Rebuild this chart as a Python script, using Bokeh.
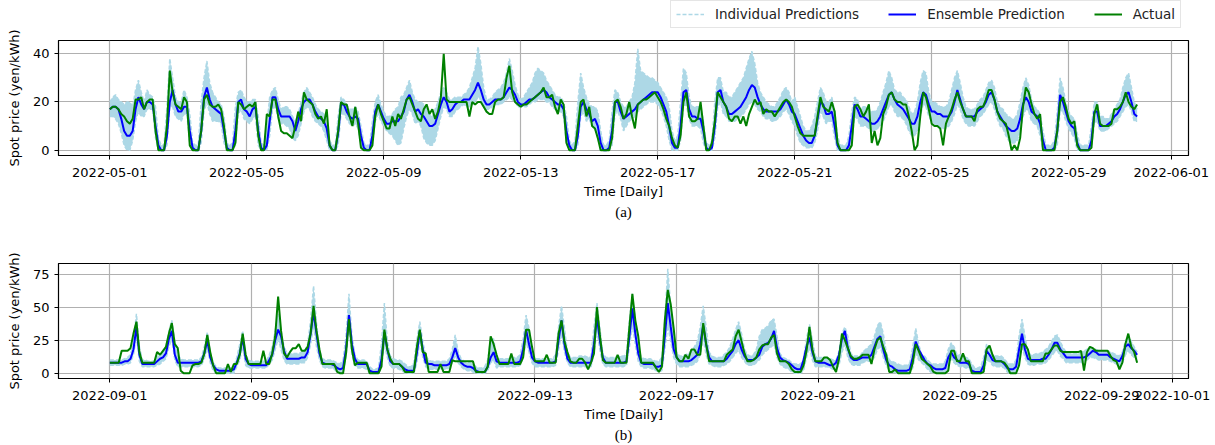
import pandas as pd
from bokeh.plotting import figure
from bokeh.models import (Range1d, FixedTicker, DatetimeTickFormatter, Legend,
                          LegendItem, Title, ColumnDataSource)
from bokeh.layouts import column
from bokeh.embed import file_html
from bokeh.resources import INLINE

# ---------------- data (2-hourly samples) ----------------
may_start = "2022-05-01 00:00"
sep_start = "2022-09-01 00:00"

may_actual = [
    17, 18, 18, 17, 15, 14, 12, 11, 13, 21, 21, 22,
    17, 20, 21, 21, 8, 0, 0, 0, 10, 33, 24, 19,
    18, 17, 22, 20, 2, 0, 0, 0, 8, 21, 23, 19,
    18, 18, 19, 17, 10, 0, 0, 0, 3, 20, 19, 17,
    18, 19, 18, 20, 6, 0, 0, 15, 14, 21, 21, 14,
    8, 7, 7, 6, 5, 10, 16, 12, 24, 21, 20, 19,
    15, 13, 14, 11, 17, 2, 0, 0, 8, 20, 19, 19,
    14, 10, 18, 11, 1, 0, 0, 0, 2, 14, 19, 15,
    12, 9, 9, 14, 10, 15, 13, 17, 21, 22, 19, 16,
    13, 12, 17, 19, 15, 17, 13, 16, 22, 40, 21, 20,
    20, 20, 20, 20, 20, 20, 14, 20, 19, 20, 20, 18,
    16, 15, 15, 20, 21, 21, 22, 30, 35, 24, 20, 19,
    18, 19, 19, 20, 21, 22, 23, 24, 26, 22, 22, 23,
    18, 15, 21, 19, 3, 0, 0, 0, 10, 20, 21, 14,
    18, 10, 9, 5, 0, 0, 0, 0, 5, 20, 21, 18,
    13, 15, 20, 14, 9, 19, 20, 21, 21, 22, 23, 24,
    22, 20, 17, 13, 10, 5, 2, 1, 6, 20, 24, 14,
    12, 12, 13, 20, 10, 0, 0, 3, 12, 24, 22, 20,
    18, 13, 12, 14, 14, 11, 14, 10, 15, 18, 21, 19,
    20, 15, 17, 16, 16, 14, 16, 18, 20, 21, 20, 18,
    14, 10, 7, 6, 6, 6, 6, 6, 14, 22, 18, 17,
    16, 20, 16, 3, 0, 0, 0, 0, 2, 18, 19, 17,
    14, 16, 19, 3, 8, 2, 5, 15, 18, 23, 24, 21,
    20, 20, 19, 19, 14, 8, 0, 2, 14, 24, 22, 17,
    11, 10, 10, 9, 2, 11, 14, 17, 21, 24, 20, 17,
    14, 14, 14, 12, 17, 18, 18, 21, 25, 25, 21, 16,
    13, 12, 11, 6, 0, 2, 0, 5, 18, 26, 24, 19,
    15, 13, 15, 0, 0, 0, 0, 0, 8, 20, 22, 18,
    13, 11, 12, 2, 0, 0, 0, 0, 1, 15, 19, 11,
    10, 10, 10, 11, 17, 17, 18, 20, 24, 20, 18, 17,
    19,
]

may_ensemble = [
    17, 18, 18, 17, 13, 8, 6, 6, 8, 17, 22, 19,
    17, 20, 20, 19, 10, 2, 0, 0, 6, 20, 25, 19,
    16, 16, 18, 18, 8, 1, 0, 0, 8, 22, 26, 21,
    18, 17, 16, 15, 8, 1, 0, 0, 8, 20, 21, 17,
    16, 14, 17, 18, 8, 1, 0, 2, 12, 22, 22, 17,
    14, 14, 14, 14, 12, 8, 12, 17, 20, 21, 21, 19,
    16, 14, 13, 12, 9, 2, 0, 0, 7, 19, 19, 16,
    14, 13, 14, 13, 6, 1, 0, 0, 6, 16, 19, 16,
    13, 11, 11, 12, 12, 12, 14, 16, 21, 23, 20, 16,
    17, 15, 14, 12, 10, 10, 11, 15, 19, 22, 20, 16,
    17, 19, 20, 20, 21, 21, 21, 23, 25, 28, 25, 21,
    19, 19, 20, 21, 21, 21, 22, 24, 26, 25, 23, 20,
    19, 19, 20, 21, 21, 22, 23, 24, 25, 24, 22, 21,
    20, 19, 19, 17, 8, 2, 0, 0, 6, 18, 20, 17,
    15, 12, 13, 10, 3, 0, 0, 1, 8, 20, 20, 16,
    13, 14, 15, 16, 17, 19, 20, 21, 22, 23, 24, 24,
    24, 22, 19, 16, 10, 3, 1, 1, 10, 24, 25, 17,
    14, 14, 13, 13, 8, 1, 0, 1, 10, 24, 25, 20,
    18, 15, 15, 16, 17, 18, 20, 22, 25, 27, 26, 22,
    19, 17, 16, 16, 16, 16, 16, 17, 19, 21, 19, 16,
    15, 12, 9, 6, 4, 3, 3, 6, 13, 20, 19, 15,
    15, 16, 10, 2, 0, 0, 0, 2, 10, 19, 17, 14,
    14, 13, 12, 11, 11, 12, 14, 17, 20, 23, 24, 21,
    19, 18, 17, 15, 13, 11, 11, 14, 20, 24, 23, 19,
    16, 16, 15, 15, 14, 14, 14, 16, 20, 25, 21, 17,
    14, 14, 14, 14, 16, 17, 18, 20, 23, 24, 21, 16,
    14, 12, 10, 9, 8, 8, 9, 13, 19, 22, 20, 16,
    15, 14, 11, 4, 0, 0, 0, 1, 8, 23, 20, 16,
    12, 10, 9, 3, 0, 0, 0, 0, 4, 16, 16, 10,
    10, 10, 11, 12, 14, 15, 17, 20, 23, 24, 20, 15,
    14,
]

# upper / lower extent of the individual model predictions
may_indiv_hi = [
    20, 22, 23, 21, 20, 19, 20, 20, 18, 25, 29, 24,
    20, 25, 23, 22, 18, 5, 2, 2, 18, 38, 30, 22,
    20, 20, 25, 22, 15, 3, 2, 2, 20, 30, 37, 28,
    24, 22, 20, 19, 14, 3, 2, 3, 18, 24, 25, 22,
    20, 20, 21, 21, 14, 3, 2, 10, 22, 25, 26, 21,
    17, 18, 18, 17, 14, 12, 15, 20, 24, 26, 24, 22,
    19, 17, 16, 15, 13, 4, 2, 2, 14, 22, 21, 19,
    17, 17, 18, 16, 10, 3, 2, 2, 12, 20, 23, 19,
    16, 14, 14, 15, 17, 18, 22, 23, 26, 29, 24, 21,
    20, 20, 19, 17, 15, 14, 17, 20, 24, 26, 24, 21,
    21, 22, 22, 22, 23, 24, 26, 30, 34, 43, 36, 26,
    21, 21, 22, 24, 25, 26, 28, 32, 38, 33, 27, 23,
    21, 22, 24, 26, 28, 32, 34, 33, 32, 29, 27, 25,
    23, 22, 22, 20, 14, 4, 2, 4, 20, 32, 26, 22,
    19, 18, 18, 16, 8, 2, 2, 4, 16, 25, 24, 20,
    18, 18, 20, 22, 28, 42, 33, 32, 31, 30, 30, 29,
    28, 26, 24, 22, 18, 8, 4, 6, 20, 34, 32, 22,
    18, 18, 18, 18, 12, 3, 2, 4, 20, 30, 30, 24,
    24, 22, 22, 24, 26, 28, 30, 34, 38, 41, 36, 28,
    24, 22, 20, 19, 18, 18, 20, 22, 25, 26, 24, 20,
    22, 18, 14, 10, 8, 8, 10, 14, 20, 26, 24, 20,
    20, 22, 16, 6, 2, 2, 2, 6, 16, 22, 21, 17,
    18, 18, 17, 16, 16, 17, 20, 24, 28, 33, 30, 25,
    24, 24, 22, 21, 18, 15, 16, 20, 28, 33, 32, 24,
    20, 20, 19, 18, 18, 18, 20, 25, 30, 33, 28, 22,
    18, 17, 17, 17, 19, 21, 22, 25, 28, 29, 26, 20,
    18, 17, 15, 14, 13, 13, 15, 20, 26, 30, 27, 21,
    18, 17, 15, 8, 2, 2, 2, 4, 16, 30, 26, 20,
    16, 14, 13, 7, 2, 2, 2, 2, 10, 20, 20, 14,
    14, 13, 13, 15, 17, 19, 21, 26, 30, 32, 26, 20,
    17,
]

may_indiv_lo = [
    14, 14, 13, 11, 7, 2, 0, 0, 4, 12, 16, 14,
    14, 17, 17, 17, 5, 0, 0, 0, 2, 18, 18, 14,
    13, 12, 15, 15, 3, 0, 0, 0, 3, 16, 20, 15,
    12, 12, 12, 11, 3, 0, 0, 0, 2, 15, 17, 13,
    12, 11, 13, 14, 2, 0, 0, 0, 6, 17, 18, 13,
    11, 11, 10, 9, 5, 4, 6, 11, 16, 18, 17, 14,
    12, 11, 10, 8, 4, 0, 0, 0, 2, 15, 15, 13,
    11, 10, 11, 9, 2, 0, 0, 0, 2, 12, 15, 12,
    10, 8, 7, 6, 4, 2, 3, 9, 14, 17, 15, 11,
    12, 10, 5, 3, 2, 2, 4, 9, 14, 18, 17, 14,
    14, 16, 17, 18, 19, 18, 18, 19, 20, 22, 21, 18,
    17, 17, 18, 19, 19, 19, 20, 21, 22, 21, 20, 18,
    18, 18, 18, 19, 20, 20, 21, 21, 21, 20, 20, 18,
    17, 16, 16, 14, 3, 0, 0, 0, 2, 14, 16, 12,
    13, 10, 9, 5, 0, 0, 0, 0, 2, 15, 16, 13,
    8, 10, 12, 13, 14, 16, 17, 18, 19, 20, 20, 20,
    19, 17, 14, 10, 4, 0, 0, 0, 4, 18, 19, 13,
    10, 10, 10, 9, 3, 0, 0, 0, 5, 18, 20, 15,
    14, 12, 12, 12, 13, 14, 15, 17, 19, 20, 19, 17,
    16, 14, 13, 13, 12, 12, 13, 14, 16, 17, 15, 12,
    10, 6, 3, 2, 1, 1, 1, 3, 8, 16, 14, 11,
    12, 12, 5, 0, 0, 0, 0, 0, 4, 14, 13, 10,
    10, 10, 9, 8, 8, 9, 10, 12, 15, 18, 19, 16,
    14, 14, 13, 11, 8, 6, 6, 8, 14, 19, 18, 14,
    12, 11, 10, 9, 9, 9, 10, 12, 15, 19, 17, 13,
    11, 10, 10, 10, 12, 14, 15, 17, 19, 20, 17, 13,
    10, 9, 6, 4, 3, 3, 4, 8, 14, 17, 16, 12,
    11, 10, 6, 0, 0, 0, 0, 0, 2, 16, 16, 12,
    9, 7, 5, 0, 0, 0, 0, 0, 1, 11, 12, 8,
    8, 8, 9, 10, 11, 12, 14, 16, 18, 19, 16, 12,
    12,
]

sep_actual = [
    8, 8, 8, 8, 17, 17, 17, 19, 30, 39, 16, 8,
    8, 8, 8, 8, 16, 14, 17, 20, 30, 38, 22, 19,
    2, 0, 0, 0, 6, 7, 7, 8, 15, 29, 16, 6,
    0, 0, 0, 0, 7, 1, 7, 7, 14, 30, 14, 7,
    7, 7, 7, 7, 17, 7, 7, 15, 28, 58, 32, 15,
    12, 16, 19, 19, 22, 17, 17, 20, 30, 51, 32, 18,
    7, 7, 7, 7, 7, 1, 0, 0, 15, 41, 18, 6,
    8, 8, 8, 8, 0, 0, 0, 0, 5, 33, 18, 11,
    7, 7, 7, 5, 1, 1, 1, 1, 20, 33, 16, 15,
    1, 1, 1, 1, 7, 1, 1, 1, 10, 9, 9, 9,
    9, 9, 9, 9, 1, 1, 1, 1, 5, 28, 22, 14,
    7, 7, 7, 7, 15, 7, 7, 7, 12, 33, 33, 20,
    9, 9, 9, 9, 14, 8, 8, 8, 30, 40, 24, 16,
    9, 8, 8, 11, 11, 8, 3, 8, 15, 50, 29, 10,
    8, 8, 8, 8, 14, 8, 8, 8, 35, 60, 40, 28,
    8, 8, 8, 8, 8, 4, 1, 5, 40, 63, 52, 34,
    12, 9, 9, 14, 11, 18, 18, 14, 14, 38, 22, 9,
    9, 9, 9, 9, 9, 14, 16, 18, 28, 33, 24, 15,
    9, 9, 10, 12, 18, 21, 22, 22, 27, 29, 15, 9,
    9, 9, 7, 3, 1, 1, 1, 6, 17, 35, 18, 9,
    9, 9, 12, 12, 10, 5, 1, 11, 30, 25, 19, 13,
    11, 11, 12, 14, 14, 14, 7, 18, 25, 27, 20, 14,
    1, 1, 3, 0, 0, 0, 0, 0, 8, 22, 17, 11,
    9, 7, 5, 1, 0, 0, 0, 0, 2, 17, 17, 9,
    9, 15, 9, 9, 0, 0, 0, 0, 1, 18, 21, 14,
    9, 9, 9, 8, 5, 0, 0, 0, 6, 22, 22, 18,
    9, 9, 9, 9, 9, 15, 15, 18, 21, 21, 17, 16,
    16, 16, 16, 16, 16, 17, 2, 16, 20, 19, 17, 17,
    17, 17, 17, 13, 10, 9, 3, 8, 22, 30, 20, 16,
    8,
]

sep_ensemble = [
    8, 8, 8, 8, 8, 9, 9, 11, 18, 35, 14, 7,
    7, 7, 7, 7, 9, 11, 12, 15, 26, 32, 14, 8,
    8, 8, 8, 8, 8, 8, 8, 9, 15, 25, 12, 6,
    3, 2, 2, 2, 2, 2, 3, 8, 15, 27, 11, 7,
    6, 6, 6, 6, 6, 6, 10, 14, 25, 33, 28, 17,
    11, 11, 11, 11, 11, 12, 12, 16, 30, 46, 30, 15,
    8, 7, 7, 7, 6, 4, 3, 4, 18, 44, 22, 11,
    7, 7, 7, 7, 2, 1, 1, 1, 10, 31, 18, 9,
    7, 7, 7, 5, 3, 2, 2, 2, 15, 32, 18, 8,
    7, 7, 6, 6, 6, 6, 6, 7, 12, 19, 12, 8,
    6, 5, 5, 4, 2, 1, 1, 1, 5, 12, 16, 9,
    8, 8, 8, 8, 8, 8, 8, 9, 18, 33, 22, 12,
    9, 8, 8, 8, 8, 8, 8, 9, 25, 40, 22, 11,
    8, 8, 8, 8, 8, 8, 8, 8, 22, 42, 25, 12,
    8, 8, 8, 8, 8, 8, 8, 9, 28, 49, 30, 15,
    8, 7, 7, 7, 7, 5, 5, 6, 28, 53, 35, 18,
    12, 9, 9, 9, 9, 10, 12, 14, 22, 36, 22, 12,
    9, 9, 9, 9, 9, 11, 14, 17, 22, 25, 18, 13,
    10, 10, 10, 12, 14, 20, 22, 23, 26, 32, 19, 12,
    10, 9, 8, 6, 4, 3, 3, 10, 20, 27, 16, 9,
    8, 8, 8, 7, 6, 6, 8, 14, 26, 32, 19, 12,
    10, 10, 11, 12, 12, 12, 14, 20, 26, 28, 18, 10,
    6, 5, 3, 2, 2, 2, 2, 3, 12, 24, 18, 14,
    10, 7, 6, 4, 3, 3, 3, 4, 12, 16, 12, 10,
    8, 8, 8, 7, 2, 1, 1, 1, 6, 17, 14, 10,
    9, 9, 9, 7, 4, 3, 3, 5, 18, 30, 18, 11,
    10, 10, 10, 10, 11, 11, 14, 18, 23, 23, 18, 15,
    12, 12, 12, 12, 12, 12, 12, 13, 15, 17, 16, 14,
    14, 14, 14, 12, 11, 10, 9, 13, 20, 22, 19, 17,
    14,
]

sep_indiv_hi = [
    10, 10, 10, 10, 10, 11, 12, 14, 24, 45, 20, 10,
    10, 9, 9, 9, 12, 14, 16, 20, 32, 40, 24, 14,
    11, 10, 10, 10, 10, 10, 10, 12, 20, 31, 16, 8,
    5, 4, 4, 4, 4, 4, 5, 12, 22, 32, 14, 10,
    9, 9, 9, 9, 9, 9, 14, 20, 32, 45, 32, 20,
    15, 15, 15, 15, 15, 16, 17, 22, 40, 66, 38, 18,
    11, 10, 10, 10, 9, 8, 7, 10, 28, 60, 28, 14,
    10, 10, 10, 9, 5, 3, 3, 4, 22, 53, 24, 13,
    11, 10, 10, 9, 7, 5, 5, 8, 25, 39, 24, 13,
    10, 9, 9, 9, 9, 9, 9, 11, 18, 29, 16, 11,
    9, 8, 8, 7, 5, 4, 4, 5, 10, 26, 26, 12,
    11, 11, 11, 11, 12, 12, 12, 14, 26, 44, 34, 16,
    11, 11, 11, 11, 11, 11, 11, 14, 35, 51, 34, 16,
    12, 12, 12, 13, 13, 13, 12, 13, 35, 53, 34, 15,
    12, 12, 12, 12, 13, 13, 13, 14, 40, 60, 40, 20,
    12, 11, 11, 11, 10, 9, 9, 12, 40, 79, 50, 28,
    16, 13, 13, 14, 15, 17, 20, 24, 35, 51, 35, 16,
    13, 12, 12, 12, 14, 16, 20, 26, 33, 39, 30, 18,
    14, 13, 14, 18, 28, 33, 34, 36, 40, 41, 28, 15,
    12, 11, 10, 8, 7, 7, 7, 11, 26, 37, 25, 13,
    12, 12, 12, 12, 11, 10, 10, 16, 30, 35, 28, 15,
    13, 13, 13, 16, 18, 20, 22, 28, 36, 39, 30, 16,
    10, 9, 8, 7, 6, 6, 6, 8, 20, 34, 22, 14,
    13, 10, 8, 7, 7, 7, 7, 9, 18, 23, 20, 14,
    14, 13, 12, 11, 7, 4, 4, 5, 12, 22, 19, 14,
    13, 13, 13, 11, 8, 7, 7, 10, 28, 41, 28, 16,
    14, 14, 15, 15, 16, 18, 20, 24, 28, 29, 24, 19,
    16, 15, 15, 15, 15, 16, 17, 18, 20, 19, 18, 17,
    17, 17, 17, 16, 15, 14, 13, 16, 24, 29, 24, 20,
    16,
]

sep_indiv_lo = [
    6, 6, 6, 6, 6, 7, 7, 8, 14, 28, 9, 5,
    5, 5, 5, 5, 6, 7, 9, 11, 20, 26, 10, 5,
    5, 5, 5, 5, 5, 5, 5, 6, 11, 19, 8, 2,
    0, 0, 0, 0, 0, 0, 0, 5, 10, 20, 6, 4,
    4, 4, 4, 4, 4, 4, 7, 10, 18, 26, 18, 10,
    7, 7, 7, 7, 7, 8, 8, 12, 22, 36, 20, 10,
    5, 4, 4, 4, 3, 1, 0, 1, 12, 34, 14, 6,
    4, 4, 4, 3, 0, 0, 0, 0, 4, 22, 12, 5,
    4, 4, 3, 2, 0, 0, 0, 0, 8, 25, 12, 5,
    3, 3, 3, 3, 3, 3, 3, 4, 8, 14, 8, 5,
    3, 2, 2, 1, 0, 0, 0, 0, 2, 8, 10, 4,
    5, 5, 5, 5, 5, 5, 5, 6, 12, 24, 16, 8,
    5, 5, 5, 5, 5, 5, 5, 6, 18, 30, 16, 8,
    5, 5, 5, 5, 5, 5, 5, 5, 15, 32, 18, 7,
    5, 5, 5, 5, 5, 5, 5, 6, 20, 36, 22, 9,
    5, 4, 4, 4, 3, 2, 1, 2, 18, 36, 24, 12,
    7, 5, 5, 5, 5, 6, 7, 9, 14, 26, 14, 7,
    6, 5, 5, 5, 6, 7, 9, 12, 15, 18, 12, 9,
    6, 6, 6, 8, 10, 14, 16, 18, 20, 22, 12, 7,
    5, 4, 3, 1, 0, 0, 0, 2, 12, 20, 10, 5,
    5, 5, 5, 5, 4, 3, 3, 6, 16, 22, 12, 7,
    6, 6, 6, 8, 9, 9, 9, 12, 18, 20, 12, 6,
    2, 1, 0, 0, 0, 0, 0, 0, 4, 16, 10, 8,
    6, 3, 1, 0, 0, 0, 0, 0, 6, 11, 8, 6,
    5, 5, 4, 4, 0, 0, 0, 0, 1, 10, 9, 6,
    5, 5, 5, 4, 1, 0, 0, 1, 10, 20, 12, 7,
    6, 6, 7, 7, 7, 8, 10, 13, 16, 17, 13, 11,
    8, 8, 8, 8, 8, 8, 9, 10, 12, 12, 11, 10,
    10, 10, 10, 9, 8, 7, 5, 8, 14, 17, 14, 12,
    11,
]

may_ticks = ["2022-05-01", "2022-05-05", "2022-05-09", "2022-05-13", "2022-05-17",
             "2022-05-21", "2022-05-25", "2022-05-29", "2022-06-01"]
sep_ticks = ["2022-09-01", "2022-09-05", "2022-09-09", "2022-09-13", "2022-09-17",
             "2022-09-21", "2022-09-25", "2022-09-29", "2022-10-01"]
may_yticks = [0, 20, 40]
sep_yticks = [0, 25, 50, 75]

legend_labels = ["Individual Predictions", "Ensemble Prediction", "Actual"]
y_label = "Spot price (yen/kWh)"
x_label = "Time [Daily]"

FONT = "DejaVu Sans"
LIGHT = "#add8e6"
BLUE = "#0000ff"
GREEN = "#008000"
IND_DASH = "4 2"


def make_panel(start, actual, ens, hi, lo, ticks, yticks, yr, pad_days,
               caption, height, top, bottom):
    t = pd.date_range(start, periods=len(actual), freq="2h")
    src = ColumnDataSource(dict(t=t, act=actual, ens=ens, hi=hi, lo=lo))
    x0 = t[0] - pd.Timedelta(days=pad_days)
    x1 = t[-1] + pd.Timedelta(days=pad_days)
    p = figure(width=1215, height=height, x_axis_type="datetime",
               output_backend="svg", toolbar_location=None,
               x_range=Range1d(x0, x1), y_range=Range1d(*yr),
               min_border_left=58, min_border_right=27,
               min_border_top=top, min_border_bottom=bottom)
    p.background_fill_color = "white"
    p.border_fill_color = "white"
    p.outline_line_color = "black"
    p.outline_line_width = 1.2

    p.xaxis.ticker = FixedTicker(ticks=[pd.Timestamp(s).value / 1e6 for s in ticks])
    fmt = "%Y-%m-%d"
    p.xaxis.formatter = DatetimeTickFormatter(
        milliseconds=fmt, seconds=fmt, minsec=fmt, minutes=fmt, hourmin=fmt,
        hours=fmt, days=fmt, months=fmt, years=fmt)
    p.yaxis.ticker = FixedTicker(ticks=yticks)

    for ax in (p.xaxis, p.yaxis):
        ax.axis_line_color = "black"
        ax.major_tick_line_color = "black"
        ax.major_tick_out = 4
        ax.major_tick_in = 0
        ax.minor_tick_line_color = None
        ax.major_label_text_font = FONT
        ax.major_label_text_font_size = "13px"
        ax.major_label_text_color = "black"
        ax.axis_label_text_font = FONT
        ax.axis_label_text_font_size = "13px"
        ax.axis_label_text_font_style = "normal"
        ax.axis_label_text_color = "black"
    p.xaxis.major_label_standoff = 8
    p.yaxis.major_label_standoff = 5
    p.xaxis.axis_label = x_label
    p.yaxis.axis_label = y_label
    p.xaxis.axis_label_standoff = 4
    p.yaxis.axis_label_standoff = 8

    for g in (p.xgrid, p.ygrid):
        g.grid_line_color = "#b0b0b0"
        g.grid_line_width = 1.2

    p.varea(x="t", y1="lo", y2="hi", source=src, fill_color=LIGHT, fill_alpha=1)
    p.line("t", "hi", source=src, line_color=LIGHT, line_width=1.5, line_dash=IND_DASH)
    p.line("t", "lo", source=src, line_color=LIGHT, line_width=1.5, line_dash=IND_DASH)
    p.line("t", "ens", source=src, line_color=BLUE, line_width=2)
    p.line("t", "act", source=src, line_color=GREEN, line_width=2)

    cap = Title(text=caption, align="center", text_font="Liberation Serif",
                text_font_size="15px", text_font_style="normal",
                text_color="black", standoff=0)
    p.add_layout(cap, "below")
    return p


# legend strip (sits above panel (a), like the original's legend box)
leg = figure(width=1215, height=28, output_backend="svg", toolbar_location=None,
             x_range=Range1d(0, 1), y_range=Range1d(0, 1),
             x_axis_location=None, y_axis_location=None,
             min_border_left=0, min_border_right=0, min_border_top=0,
             min_border_bottom=0)
leg.outline_line_color = None
leg.xgrid.visible = False
leg.ygrid.visible = False
proxy_src = ColumnDataSource(dict(x=[float("nan")], y=[float("nan")]))
r1 = leg.line("x", "y", source=proxy_src, line_color=LIGHT, line_width=1.5,
              line_dash=IND_DASH)
r2 = leg.line("x", "y", source=proxy_src, line_color=BLUE, line_width=2)
r3 = leg.line("x", "y", source=proxy_src, line_color=GREEN, line_width=2)
lg = Legend(items=[LegendItem(label=legend_labels[0], renderers=[r1]),
                   LegendItem(label=legend_labels[1], renderers=[r2]),
                   LegendItem(label=legend_labels[2], renderers=[r3])],
            orientation="horizontal", location=(612, 0))
lg.label_text_font = FONT
lg.label_text_font_size = "13.5px"
lg.label_text_color = "#222222"
lg.glyph_width = 28
lg.glyph_height = 14
lg.label_height = 14
lg.label_standoff = 11
lg.spacing = 29
lg.padding = 5
lg.margin = 0
lg.border_line_color = "#cccccc"
lg.border_line_width = 1
lg.background_fill_alpha = 0.8
leg.add_layout(lg, "center")

pa = make_panel(may_start, may_actual, may_ensemble, may_indiv_hi, may_indiv_lo,
                may_ticks, may_yticks, (-2.2, 45.5), 1.5, "(a)",
                height=198, top=12, bottom=71)
pb = make_panel(sep_start, sep_actual, sep_ensemble, sep_indiv_hi, sep_indiv_lo,
                sep_ticks, sep_yticks, (-3.95, 83.0), 1.45, "(b)",
                height=219, top=37, bottom=67)

layout = column(leg, pa, pb, spacing=0)
open("out.html", "w").write(file_html(layout, INLINE))
